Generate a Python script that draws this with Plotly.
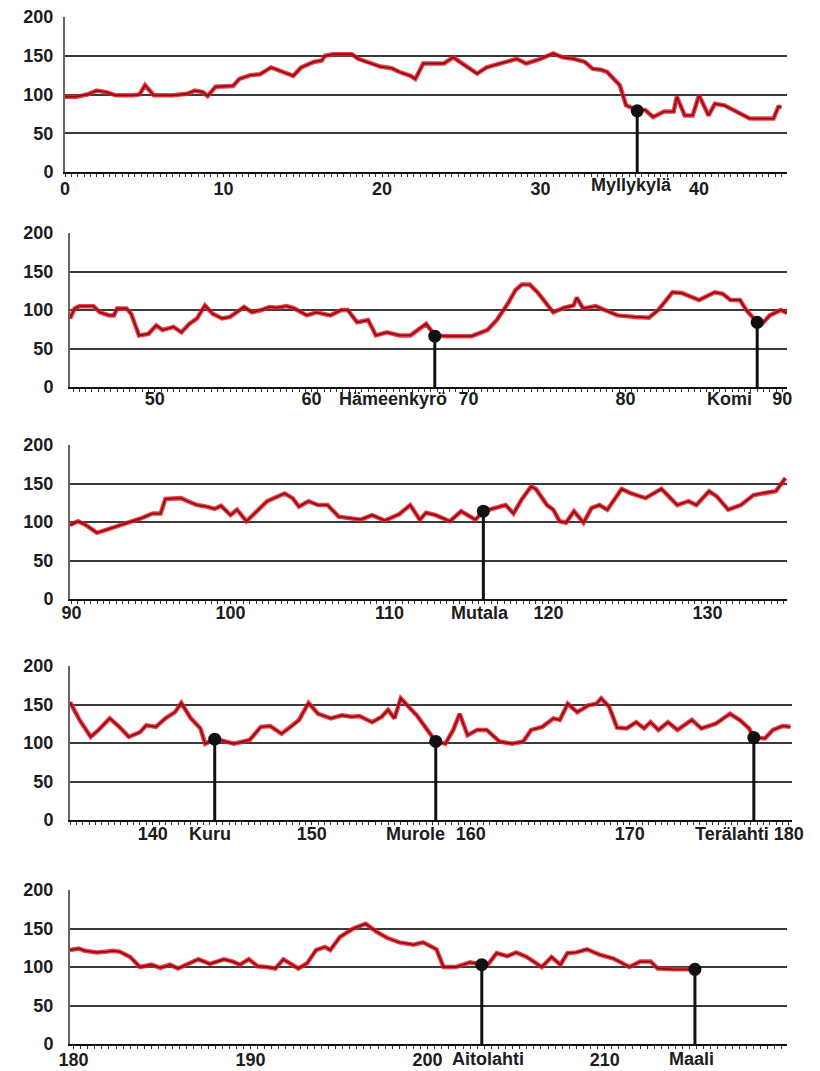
import plotly.graph_objects as go

# ---------------- data (km along route, altitude m) ----------------
km_p1 = [0, 0.7, 1.4, 2.0, 2.6, 3.2, 4.3, 4.7, 5.05, 5.6, 6.8, 7.7, 8.2, 8.7, 9.0, 9.5, 10.6, 11.0, 11.7, 12.3,
         13.0, 13.7, 14.0, 14.4, 14.9, 15.7, 16.2, 16.4, 16.9, 18.1, 18.5, 19.0, 19.9, 20.6, 21.1, 21.8, 22.1,
         22.6, 23.9, 24.5, 24.9, 26.0, 26.6, 27.4, 28.5, 29.1, 30.0, 30.8, 31.4, 32.1, 32.8, 33.3, 33.8, 34.2,
         34.6, 35.0, 35.4, 36.1, 36.6, 37.1, 37.8, 38.4, 38.6, 39.1, 39.6, 40.0, 40.6, 41.0, 41.6, 42.4, 43.2,
         44.7, 45.0, 45.2]
alt_p1 = [97, 97, 100, 105, 103, 99, 99, 100, 112, 99, 99, 101, 105, 103, 98, 110, 111, 120, 125, 126,
          135, 130, 127, 124, 135, 142, 144, 150, 152, 152, 146, 142, 136, 134, 129, 124, 120,
          140, 140, 148, 142, 127, 135, 140, 146, 140, 146, 153, 148, 146, 142, 133, 132, 129,
          120, 112, 86, 80, 80, 71, 78, 78, 97, 73, 73, 99, 73, 88, 86, 78, 69,
          69, 84, 84]

km_p2 = [44.6, 44.9, 45.2, 46.1, 46.5, 47.1, 47.4, 47.6, 48.2, 48.5, 49.0, 49.6, 50.1, 50.5, 51.2, 51.7, 52.2,
         52.7, 53.2, 53.7, 54.3, 54.8, 55.7, 56.2, 56.8, 57.3, 57.8, 58.4, 58.9, 59.7, 60.3, 61.2, 61.9, 62.3,
         62.9, 63.6, 64.1, 64.8, 65.6, 66.3, 67.3, 67.85, 68.6, 70.2, 71.2, 71.8, 72.5, 73.0, 73.4, 73.9, 74.4,
         74.8, 75.4, 76.1, 76.7, 76.9, 77.3, 78.1, 78.7, 79.5, 80.6, 81.5, 82.1, 83.0, 83.6, 84.7, 85.7, 86.2,
         86.7, 87.3, 87.7, 88.4, 88.7, 89.2, 89.9, 90.3]
alt_p2 = [89, 102, 105, 105, 97, 93, 93, 102, 102, 95, 67, 69, 80, 74, 78, 71, 82,
          89, 106, 95, 89, 91, 104, 97, 100, 104, 103, 105, 102, 93, 97, 93, 100, 100,
          84, 87, 67, 71, 67, 67, 82, 67, 66, 66, 74, 87, 108, 126, 133, 133, 123,
          113, 97, 103, 106, 116, 102, 105, 100, 93, 91, 90, 100, 123, 122, 113, 123, 121,
          113, 113, 100, 84, 82, 93, 100, 96]

km_p3 = [89.9, 90.4, 90.9, 91.6, 92.5, 93.1, 93.6, 94.4, 95.1, 95.6, 95.9, 96.9, 97.3, 97.9, 98.5, 99.0, 99.4,
         100.0, 100.4, 101.0, 101.5, 102.3, 103.4, 103.9, 104.3, 104.9, 105.5, 106.1, 106.8, 107.4, 108.2,
         108.9, 109.7, 110.6, 111.3, 111.9, 112.3, 112.9, 113.8, 114.5, 115.4, 115.9, 116.6, 117.3, 117.8,
         118.3, 118.9, 119.2, 119.9, 120.3, 120.7, 121.1, 121.6, 122.2, 122.7, 123.2, 123.7, 124.6, 125.2,
         126.1, 127.1, 128.1, 128.8, 129.3, 130.1, 130.6, 131.3, 132.1, 132.9, 133.6, 134.3, 134.9]
alt_p3 = [96, 101, 96, 86, 92, 96, 99, 105, 111, 111, 130, 131, 127, 122, 120, 117, 121,
          109, 116, 101, 111, 127, 137, 131, 120, 127, 122, 122, 107, 105, 103,
          109, 102, 110, 122, 103, 112, 109, 101, 114, 103, 114, 118, 122, 111,
          129, 146, 143, 122, 116, 101, 99, 114, 99, 118, 122, 116, 143, 137,
          131, 143, 122, 127, 122, 140, 133, 116, 122, 135, 138, 140, 157]

km_p4 = [134.8, 135.4, 136.1, 136.6, 137.3, 137.9, 138.5, 139.2, 139.6, 140.2, 140.8, 141.4, 141.8, 142.4,
         143.0, 143.3, 143.9, 144.2, 145.1, 146.1, 146.8, 147.4, 148.1, 148.7, 149.2, 149.8, 150.4, 151.2,
         151.9, 152.5, 153.0, 153.8, 154.4, 154.8, 155.2, 155.6, 156.0, 156.6, 157.2, 157.8, 158.4, 158.9,
         159.3, 159.8, 160.4, 161.0, 161.8, 162.6, 163.3, 163.8, 164.5, 165.2, 165.6, 166.1, 166.7, 167.4,
         167.9, 168.2, 168.7, 169.2, 169.8, 170.4, 170.9, 171.3, 171.8, 172.4, 173.0, 173.9, 174.5, 175.4,
         176.3, 176.9, 177.5, 177.8, 178.5, 179.0, 179.6, 180.1]
alt_p4 = [153, 130, 108, 117, 132, 121, 108, 114, 123, 121, 132, 140, 152, 132,
          119, 99, 105, 104, 99, 104, 121, 122, 112, 121, 130, 152, 138, 132,
          136, 134, 135, 127, 134, 143, 132, 158, 149, 136, 119, 102, 99, 117,
          138, 110, 117, 117, 102, 99, 102, 117, 121, 132, 130, 151, 140, 149,
          151, 158, 147, 120, 119, 127, 119, 127, 117, 127, 117, 130, 119, 125,
          138, 130, 119, 107, 106, 117, 122, 121]

km_p5 = [179.8, 180.3, 180.65, 181.3, 181.9, 182.2, 182.6, 183.2, 183.75, 184.4, 184.9, 185.45, 185.9, 186.4,
         187.05, 187.7, 188.5, 189.0, 189.4, 189.9, 190.4, 190.9, 191.4, 191.85, 192.2, 192.7, 193.2, 193.7,
         194.2, 194.5, 195.05, 195.8, 196.5, 197.1, 197.7, 198.4, 199.2, 199.75, 200.5, 200.9, 201.6, 202.4,
         203.06, 203.4, 203.9, 204.5, 205.0, 205.6, 206.45, 207.0, 207.5, 207.9, 208.4, 209.0, 209.7, 210.5,
         211.4, 212.0, 212.6, 213.0, 213.9, 214.6, 215.1]
alt_p5 = [122, 124, 121, 119, 120, 121, 120, 113, 100, 103, 99, 103, 98, 103,
          110, 104, 110, 107, 103, 110, 101, 100, 98, 110, 105, 98, 105, 122,
          126, 122, 139, 150, 156, 146, 138, 132, 129, 132, 123, 100, 100, 106,
          103, 103, 118, 114, 119, 113, 100, 113, 103, 118, 119, 123, 116, 111,
          100, 107, 107, 98, 97, 97, 97]

# towns: name, km, altitude, panel
town_names = ["Myllykylä", "Hämeenkyrö", "Komi", "Mutala", "Kuru", "Murole", "Terälahti", "Aitolahti", "Maali"]
town_km = [36.1, 67.85, 88.4, 115.9, 143.9, 157.8, 177.8, 203.06, 215.1]
town_alt = [79, 66, 84, 114, 105, 102, 107, 103, 97]
town_panel = [1, 2, 2, 3, 4, 4, 4, 5, 5]

y_ticks = [0, 50, 100, 150, 200]
x_ranges = [[0, 45.55], [44.6, 90.3], [89.9, 135.0], [134.8, 180.2], [179.8, 220.3]]
x_ticks = [[0, 10, 20, 30, 40], [50, 60, 70, 80, 90], [90, 100, 110, 120, 130],
           [140, 150, 160, 170, 180], [180, 190, 200, 210]]

panels = [(km_p1, alt_p1), (km_p2, alt_p2), (km_p3, alt_p3), (km_p4, alt_p4), (km_p5, alt_p5)]

# ---------------- layout geometry (pixels of the 820x1071 page) ----------------
W, H = 820, 1071
px_x = [(65, 787), (70, 787), (70, 787), (70, 792), (70, 787)]
px_y = [(17, 172), (233, 387), (445, 599), (666, 820), (890, 1044)]
ystandoff = [6, 11, 11, 11, 11]
xstandoff = [-4, -9, -7, -7, -5]
town_yshift = [-1, 0, -2, -2, -3]

# town label placement (anchor, pixel shift from marker)
label_style = {
    "Myllykylä": ("center", -6), "Hämeenkyrö": ("right", 14), "Komi": ("right", -3),
    "Mutala": ("center", -3), "Kuru": ("center", -5), "Murole": ("right", 11),
    "Terälahti": ("right", 17), "Aitolahti": ("center", 6), "Maali": ("center", -3),
}

FONT = "Liberation Sans, Arial, sans-serif"
tickfont = dict(family=FONT, size=18, color="#1c1c1c", weight="bold")

fig = go.Figure()
layout = dict(width=W, height=H, margin=dict(l=0, r=0, t=0, b=0, autoexpand=False),
              paper_bgcolor="white", plot_bgcolor="white", showlegend=False)
annotations = []

for i, (kx, ay) in enumerate(panels):
    n = i + 1
    xa = "x" if n == 1 else f"x{n}"
    ya = "y" if n == 1 else f"y{n}"
    # halo + core for the red profile line
    fig.add_trace(go.Scatter(x=kx, y=ay, mode="lines", xaxis=xa, yaxis=ya,
                             line=dict(color="rgba(235,30,40,0.85)", width=4.5), hoverinfo="skip"))
    fig.add_trace(go.Scatter(x=kx, y=ay, mode="lines", xaxis=xa, yaxis=ya,
                             line=dict(color="#8e0c12", width=1.8)))
    # towns on this panel
    for name, tk, ta, tp in zip(town_names, town_km, town_alt, town_panel):
        if tp != n:
            continue
        fig.add_trace(go.Scatter(x=[tk, tk], y=[0, ta], mode="lines", xaxis=xa, yaxis=ya,
                                 line=dict(color="#111", width=3)))
        fig.add_trace(go.Scatter(x=[tk], y=[ta], mode="markers", xaxis=xa, yaxis=ya,
                                 marker=dict(color="#111", size=13)))
        anchor, dx = label_style[name]
        annotations.append(dict(x=tk, y=0, xref=xa, yref=ya, text=name, showarrow=False,
                                xanchor=anchor, yanchor="top", xshift=dx, yshift=town_yshift[i],
                                font=tickfont))

    x0, x1 = px_x[i]
    y0, y1 = px_y[i]
    layout["xaxis" if n == 1 else f"xaxis{n}"] = dict(
        domain=[x0 / W, x1 / W], anchor=ya, range=x_ranges[i], automargin=False,
        tickvals=x_ticks[i], ticktext=[str(t) for t in x_ticks[i]],
        showgrid=False, zeroline=False, showline=True, linecolor="#111", linewidth=2,
        ticks="outside", ticklen=3, tickwidth=1, tickcolor="#222",
        minor=dict(dtick=0.4, tick0=0, ticks="outside", ticklen=3, tickwidth=1, tickcolor="#333"),
        tickfont=tickfont, ticklabelstandoff=xstandoff[i], fixedrange=True)
    layout["yaxis" if n == 1 else f"yaxis{n}"] = dict(
        domain=[1 - y1 / H, 1 - y0 / H], anchor=xa, range=[0, 200], automargin=False,
        tickvals=y_ticks, ticktext=[str(t) for t in y_ticks],
        showgrid=True, gridcolor="#3a3a3a", gridwidth=2, zeroline=False,
        showline=True, linecolor="#666", linewidth=2, ticks="",
        tickfont=tickfont, ticklabelstandoff=ystandoff[i], fixedrange=True)

layout["annotations"] = annotations
fig.update_layout(**layout)
fig.write_html("out.html", config={"displayModeBar": False},
               post_script="document.body.style.margin='0';document.body.style.overflow='hidden';")
